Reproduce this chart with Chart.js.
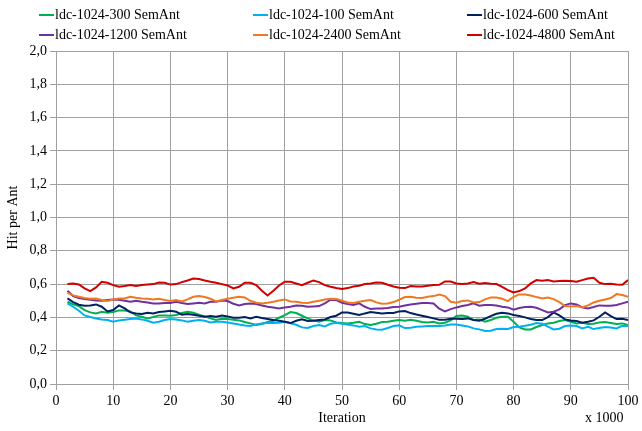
<!DOCTYPE html>
<html lang="en">
  <head>
    <meta charset="UTF-8" />
    <title>Hit per Ant</title>
    <script src="https://cdn.jsdelivr.net/npm/chart.js"></script>
    <style>
      body { margin: 0; background: #fff; }
      #wrap { width: 642px; height: 431px; }
    </style>
  </head>
  <body>
    <div id="wrap"><canvas id="myChart" width="642" height="431"></canvas></div>

    <script>
      // iteration (x 1000)
      const iterations = [
        2, 3, 4, 5, 6, 7, 8, 9, 10, 11, 12, 13, 14, 15, 16, 17, 18, 19, 20,
        21, 22, 23, 24, 25, 26, 27, 28, 29, 30, 31, 32, 33, 34, 35, 36, 37, 38, 39, 40,
        41, 42, 43, 44, 45, 46, 47, 48, 49, 50, 51, 52, 53, 54, 55, 56, 57, 58, 59, 60,
        61, 62, 63, 64, 65, 66, 67, 68, 69, 70, 71, 72, 73, 74, 75, 76, 77, 78, 79, 80,
        81, 82, 83, 84, 85, 86, 87, 88, 89, 90, 91, 92, 93, 94, 95, 96, 97, 98, 99, 100,
      ];

      // hit per ant, one array per run
      const ldc300 = [
        0.494, 0.478, 0.468, 0.444, 0.43, 0.424, 0.434, 0.428, 0.432, 0.442, 0.442, 0.436, 0.412, 0.404, 0.394, 0.402, 0.412, 0.412, 0.41,
        0.414, 0.426, 0.434, 0.428, 0.416, 0.406, 0.394, 0.384, 0.392, 0.39, 0.386, 0.382, 0.372, 0.364, 0.354, 0.36, 0.372, 0.38, 0.398, 0.414,
        0.432, 0.426, 0.41, 0.394, 0.382, 0.374, 0.384, 0.382, 0.37, 0.366, 0.364, 0.368, 0.374, 0.36, 0.354, 0.362, 0.372, 0.374, 0.38, 0.384,
        0.38, 0.386, 0.38, 0.372, 0.37, 0.374, 0.364, 0.368, 0.382, 0.408, 0.412, 0.404, 0.384, 0.388, 0.374, 0.384, 0.398, 0.404, 0.404, 0.374,
        0.34, 0.328, 0.328, 0.342, 0.354, 0.364, 0.368, 0.378, 0.384, 0.374, 0.364, 0.368, 0.36, 0.362, 0.37, 0.372, 0.366, 0.36, 0.364, 0.354,
      ];
      const ldc100 = [
        0.484, 0.464, 0.44, 0.412, 0.402, 0.394, 0.388, 0.384, 0.374, 0.382, 0.386, 0.39, 0.394, 0.388, 0.38, 0.368, 0.374, 0.384, 0.39,
        0.388, 0.382, 0.374, 0.38, 0.384, 0.38, 0.37, 0.374, 0.374, 0.37, 0.364, 0.358, 0.352, 0.348, 0.358, 0.364, 0.368, 0.366, 0.368, 0.374,
        0.364, 0.356, 0.34, 0.336, 0.348, 0.354, 0.346, 0.362, 0.368, 0.362, 0.358, 0.352, 0.344, 0.348, 0.334, 0.328, 0.326, 0.336, 0.348, 0.352,
        0.336, 0.338, 0.344, 0.346, 0.348, 0.348, 0.348, 0.352, 0.358, 0.358, 0.352, 0.346, 0.334, 0.328, 0.318, 0.32, 0.33, 0.332, 0.33, 0.342,
        0.344, 0.35, 0.356, 0.366, 0.362, 0.344, 0.328, 0.332, 0.348, 0.352, 0.348, 0.334, 0.344, 0.33, 0.336, 0.342, 0.34, 0.334, 0.35, 0.348,
      ];
      const ldc600 = [
        0.514, 0.492, 0.476, 0.47, 0.472, 0.478, 0.464, 0.436, 0.444, 0.472, 0.454, 0.43, 0.424, 0.42, 0.428, 0.424, 0.432, 0.436, 0.44,
        0.434, 0.416, 0.42, 0.416, 0.41, 0.404, 0.408, 0.404, 0.412, 0.406, 0.398, 0.398, 0.402, 0.394, 0.404, 0.396, 0.39, 0.384, 0.38, 0.374,
        0.366, 0.38, 0.388, 0.378, 0.38, 0.384, 0.388, 0.402, 0.41, 0.43, 0.43, 0.422, 0.414, 0.424, 0.432, 0.428, 0.424, 0.426, 0.426, 0.436,
        0.438, 0.426, 0.418, 0.41, 0.402, 0.394, 0.386, 0.386, 0.392, 0.392, 0.39, 0.394, 0.384, 0.38, 0.392, 0.408, 0.422, 0.428, 0.424, 0.414,
        0.408, 0.4, 0.39, 0.384, 0.384, 0.402, 0.43, 0.412, 0.388, 0.382, 0.378, 0.368, 0.374, 0.382, 0.404, 0.43, 0.408, 0.39, 0.392, 0.384,
      ];
      const ldc1200 = [
        0.56, 0.528, 0.516, 0.51, 0.506, 0.502, 0.5, 0.504, 0.508, 0.506, 0.5, 0.494, 0.5, 0.494, 0.49, 0.484, 0.484, 0.486, 0.486,
        0.494, 0.486, 0.48, 0.484, 0.488, 0.484, 0.494, 0.494, 0.502, 0.498, 0.482, 0.472, 0.48, 0.484, 0.48, 0.472, 0.464, 0.46, 0.454, 0.46,
        0.464, 0.472, 0.47, 0.464, 0.466, 0.468, 0.484, 0.506, 0.504, 0.488, 0.48, 0.474, 0.484, 0.464, 0.45, 0.454, 0.454, 0.456, 0.462, 0.464,
        0.472, 0.478, 0.482, 0.486, 0.486, 0.484, 0.452, 0.436, 0.45, 0.46, 0.468, 0.474, 0.484, 0.47, 0.474, 0.474, 0.472, 0.464, 0.46, 0.446,
        0.456, 0.462, 0.464, 0.458, 0.444, 0.43, 0.434, 0.448, 0.474, 0.484, 0.478, 0.46, 0.454, 0.462, 0.472, 0.47, 0.47, 0.474, 0.484, 0.494,
      ];
      const ldc2400 = [
        0.548, 0.532, 0.524, 0.516, 0.512, 0.514, 0.504, 0.498, 0.508, 0.514, 0.514, 0.524, 0.518, 0.514, 0.512, 0.508, 0.512, 0.504, 0.498,
        0.504, 0.496, 0.508, 0.524, 0.528, 0.522, 0.512, 0.496, 0.504, 0.512, 0.518, 0.524, 0.52, 0.5, 0.488, 0.484, 0.488, 0.494, 0.502, 0.508,
        0.496, 0.494, 0.488, 0.486, 0.494, 0.5, 0.508, 0.512, 0.51, 0.5, 0.49, 0.486, 0.494, 0.5, 0.504, 0.49, 0.482, 0.484, 0.492, 0.506,
        0.522, 0.524, 0.518, 0.516, 0.524, 0.528, 0.538, 0.528, 0.494, 0.488, 0.498, 0.502, 0.49, 0.492, 0.508, 0.52, 0.52, 0.512, 0.498, 0.524,
        0.538, 0.538, 0.532, 0.522, 0.514, 0.52, 0.51, 0.492, 0.468, 0.466, 0.468, 0.46, 0.472, 0.49, 0.5, 0.508, 0.516, 0.54, 0.534, 0.524,
      ];
      const ldc4800 = [
        0.6, 0.604, 0.598, 0.574, 0.558, 0.58, 0.614, 0.608, 0.594, 0.584, 0.588, 0.594, 0.588, 0.594, 0.598, 0.6, 0.61, 0.608, 0.597,
        0.6, 0.612, 0.622, 0.634, 0.63, 0.622, 0.614, 0.608, 0.6, 0.592, 0.574, 0.584, 0.608, 0.608, 0.594, 0.56, 0.532, 0.56, 0.592, 0.614,
        0.614, 0.604, 0.594, 0.608, 0.622, 0.612, 0.594, 0.584, 0.576, 0.57, 0.576, 0.586, 0.59, 0.6, 0.604, 0.61, 0.608, 0.596, 0.586, 0.578,
        0.576, 0.588, 0.586, 0.586, 0.59, 0.594, 0.596, 0.616, 0.616, 0.604, 0.6, 0.604, 0.612, 0.602, 0.606, 0.602, 0.6, 0.584, 0.564, 0.55,
        0.558, 0.574, 0.604, 0.624, 0.62, 0.624, 0.616, 0.618, 0.62, 0.618, 0.614, 0.624, 0.634, 0.638, 0.608, 0.6, 0.602, 0.598, 0.596, 0.624,
      ];

      const seriesNames = [
        "ldc-1024-300 SemAnt",
        "ldc-1024-100 SemAnt",
        "ldc-1024-600 SemAnt",
        "ldc-1024-1200 SemAnt",
        "ldc-1024-2400 SemAnt",
        "ldc-1024-4800 SemAnt",
      ];
      const seriesValues = [ldc300, ldc100, ldc600, ldc1200, ldc2400, ldc4800];
      const seriesColors = ["#00b050", "#00b0f0", "#002060", "#7030a0", "#f07820", "#d00000"];

      const font = "'Liberation Serif', 'Times New Roman', serif";
      const gridGray = "#a0a0a0";

      // legend laid out as a 3 x 2 grid + the "x 1000" note
      const gridLegend = {
        id: "gridLegend",
        afterDraw(chart) {
          const ctx = chart.ctx;
          const colX = [39, 253, 467];
          ctx.save();
          ctx.font = "14px " + font;
          ctx.textBaseline = "middle";
          chart.data.datasets.forEach((ds, i) => {
            const x = colX[i % 3];
            const y = 15 + Math.floor(i / 3) * 20;
            ctx.strokeStyle = ds.borderColor;
            ctx.lineWidth = 2;
            ctx.beginPath();
            ctx.moveTo(x, y);
            ctx.lineTo(x + 15, y);
            ctx.stroke();
            ctx.fillStyle = "#000";
            ctx.fillText(ds.label, x + 16, y);
          });
          ctx.fillText("x 1000", 585, 418);
          ctx.restore();
        },
      };

      const ctx = document.getElementById("myChart").getContext("2d");
      const myChart = new Chart(ctx, {
        type: "line",
        data: {
          datasets: seriesNames.map((name, s) => ({
            label: name,
            data: iterations.map((x, i) => ({ x: x, y: seriesValues[s][i] })),
            borderColor: seriesColors[s],
            backgroundColor: seriesColors[s],
            borderWidth: 2,
            pointRadius: 0,
            tension: 0,
            order: 6 - s, // later series on top, like the original
          })),
        },
        options: {
          responsive: false,
          animation: false,
          layout: { padding: { top: 51, right: 14, left: 0, bottom: 0 } },
          plugins: { legend: { display: false }, tooltip: { enabled: false } },
          scales: {
            x: {
              type: "linear",
              min: 0,
              max: 100,
              afterFit: (scale) => { scale.height = 47; },
              ticks: { stepSize: 10, color: "#000", font: { family: font, size: 14 }, maxRotation: 0 },
              grid: { color: gridGray, tickColor: gridGray, tickLength: 6 },
              border: { color: gridGray },
              title: { display: true, text: "Iteration", color: "#000", font: { family: font, size: 14 }, padding: { top: 0, bottom: 4 } },
            },
            y: {
              min: 0,
              max: 2,
              afterFit: (scale) => { scale.width = 56; },
              ticks: {
                stepSize: 0.2,
                color: "#000",
                font: { family: font, size: 14 },
                callback: (v) => v.toFixed(1).replace(".", ","),
              },
              grid: { color: gridGray, tickColor: gridGray, tickLength: 6 },
              border: { color: gridGray },
              title: { display: true, text: "Hit per Ant", color: "#000", font: { family: font, size: 14 }, padding: { top: 5, bottom: 0 } },
            },
          },
        },
        plugins: [gridLegend],
      });
    </script>
  </body>
</html>
